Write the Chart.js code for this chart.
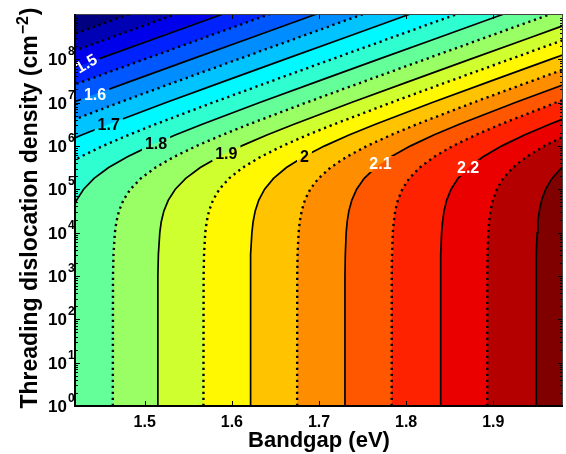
<!DOCTYPE html>
<html>
<head>
<meta charset="utf-8">
<script src="https://cdn.jsdelivr.net/npm/chart.js@4.4.1/dist/chart.umd.min.js"></script>
<style>
  html, body { margin: 0; padding: 0; background: #fff; }
  #wrap { width: 566px; height: 454px; }
</style>
</head>
<body>
<div id="wrap"><canvas id="c" width="566" height="454"></canvas></div>
<script>
// Contour levels
const levels = [1.40, 1.45, 1.50, 1.55, 1.60, 1.65, 1.70, 1.75, 1.80, 1.85,
                1.90, 1.95, 2.00, 2.05, 2.10, 2.15, 2.20, 2.25, 2.30];
// Levels drawn as solid lines (the rest are dotted)
const solidLevels = [1.5, 1.6, 1.7, 1.8, 1.9, 2.0, 2.1, 2.2, 2.3];

// log10 of the threading dislocation density (cm^-2) where each contour is sampled
const densityExp = [0, 3, 3.5, 4, 4.25, 4.5, 4.75, 5, 5.25, 5.5, 5.75, 6, 6.25, 6.5, 7, 7.5, 8, 8.5, 9, 9.5];

// Bandgap (eV) of each contour at the densities above
const eg140 = [0.9801, 0.9803, 0.9809, 0.9825, 0.9842, 0.9872, 0.9923, 1.0003, 1.0123, 1.0290, 1.0506, 1.0764, 1.1054, 1.1365, 1.2024, 1.2704, 1.3391, 1.4080, 1.4769, 1.5459];
const eg145 = [1.0338, 1.0340, 1.0346, 1.0362, 1.0379, 1.0409, 1.0460, 1.0540, 1.0660, 1.0827, 1.1043, 1.1301, 1.1591, 1.1902, 1.2561, 1.3241, 1.3928, 1.4617, 1.5306, 1.5996];
const eg150 = [1.0875, 1.0877, 1.0883, 1.0899, 1.0916, 1.0946, 1.0997, 1.1077, 1.1197, 1.1364, 1.1580, 1.1838, 1.2128, 1.2439, 1.3098, 1.3778, 1.4465, 1.5154, 1.5843, 1.6533];
const eg155 = [1.1412, 1.1414, 1.1420, 1.1436, 1.1453, 1.1483, 1.1534, 1.1614, 1.1734, 1.1901, 1.2117, 1.2375, 1.2665, 1.2976, 1.3635, 1.4315, 1.5002, 1.5691, 1.6380, 1.7070];
const eg160 = [1.1949, 1.1951, 1.1957, 1.1973, 1.1990, 1.2020, 1.2071, 1.2151, 1.2271, 1.2438, 1.2654, 1.2912, 1.3202, 1.3513, 1.4172, 1.4852, 1.5539, 1.6228, 1.6917, 1.7607];
const eg165 = [1.2486, 1.2488, 1.2494, 1.2510, 1.2527, 1.2557, 1.2608, 1.2688, 1.2808, 1.2975, 1.3191, 1.3449, 1.3739, 1.4050, 1.4709, 1.5389, 1.6076, 1.6765, 1.7454, 1.8144];
const eg170 = [1.3023, 1.3025, 1.3031, 1.3047, 1.3064, 1.3094, 1.3145, 1.3225, 1.3345, 1.3512, 1.3728, 1.3986, 1.4276, 1.4587, 1.5246, 1.5926, 1.6613, 1.7302, 1.7991, 1.8681];
const eg175 = [1.3560, 1.3562, 1.3568, 1.3584, 1.3601, 1.3631, 1.3682, 1.3762, 1.3882, 1.4049, 1.4265, 1.4523, 1.4813, 1.5124, 1.5783, 1.6463, 1.7150, 1.7839, 1.8528, 1.9218];
const eg180 = [1.4097, 1.4099, 1.4105, 1.4121, 1.4138, 1.4168, 1.4219, 1.4299, 1.4419, 1.4586, 1.4802, 1.5060, 1.5350, 1.5661, 1.6320, 1.7000, 1.7687, 1.8376, 1.9065, 1.9755];
const eg185 = [1.4634, 1.4636, 1.4642, 1.4658, 1.4675, 1.4705, 1.4756, 1.4836, 1.4956, 1.5123, 1.5339, 1.5597, 1.5887, 1.6198, 1.6857, 1.7537, 1.8224, 1.8913, 1.9602, 2.0292];
const eg190 = [1.5149, 1.5151, 1.5157, 1.5173, 1.5190, 1.5220, 1.5271, 1.5351, 1.5471, 1.5638, 1.5854, 1.6112, 1.6402, 1.6713, 1.7372, 1.8052, 1.8739, 1.9428, 2.0117, 2.0807];
const eg195 = [1.5674, 1.5676, 1.5681, 1.5695, 1.5711, 1.5738, 1.5784, 1.5857, 1.5969, 1.6126, 1.6333, 1.6583, 1.6867, 1.7175, 1.7830, 1.8508, 1.9195, 1.9884, 2.0573, 2.1263];
const eg200 = [1.6211, 1.6213, 1.6217, 1.6230, 1.6244, 1.6268, 1.6309, 1.6376, 1.6478, 1.6626, 1.6823, 1.7066, 1.7344, 1.7648, 1.8300, 1.8977, 1.9663, 2.0352, 2.1041, 2.1731];
const eg205 = [1.6749, 1.6750, 1.6754, 1.6766, 1.6779, 1.6801, 1.6838, 1.6899, 1.6994, 1.7132, 1.7320, 1.7553, 1.7825, 1.8124, 1.8771, 1.9447, 2.0132, 2.0821, 2.1510, 2.2200];
const eg210 = [1.7297, 1.7298, 1.7302, 1.7312, 1.7323, 1.7343, 1.7377, 1.7432, 1.7519, 1.7648, 1.7826, 1.8051, 1.8316, 1.8610, 1.9253, 1.9927, 2.0611, 2.1300, 2.1989, 2.2679];
const eg215 = [1.7834, 1.7835, 1.7838, 1.7847, 1.7858, 1.7875, 1.7905, 1.7956, 1.8036, 1.8156, 1.8323, 1.8539, 1.8797, 1.9087, 1.9723, 2.0395, 2.1080, 2.1768, 2.2457, 2.3147];
const eg220 = [1.8394, 1.8395, 1.8398, 1.8407, 1.8418, 1.8435, 1.8465, 1.8516, 1.8596, 1.8716, 1.8883, 1.9099, 1.9357, 1.9647, 2.0283, 2.0955, 2.1640, 2.2328, 2.3017, 2.3707];
const eg225 = [1.8931, 1.8932, 1.8935, 1.8943, 1.8952, 1.8968, 1.8995, 1.9041, 1.9114, 1.9226, 1.9383, 1.9590, 1.9840, 2.0124, 2.0755, 2.1425, 2.2108, 2.2796, 2.3485, 2.4175];
const eg230 = [1.9491, 1.9492, 1.9495, 1.9503, 1.9512, 1.9528, 1.9555, 1.9601, 1.9674, 1.9786, 1.9943, 2.0150, 2.0400, 2.0684, 2.1315, 2.1985, 2.2668, 2.3356, 2.4045, 2.4735];

const contourBandgap = [eg140, eg145, eg150, eg155, eg160, eg165, eg170, eg175, eg180, eg185,
                        eg190, eg195, eg200, eg205, eg210, eg215, eg220, eg225, eg230];

// Inline contour labels: which level, and the density (log10) where it sits on its line
const labelLevels = [1.5, 1.6, 1.7, 1.8, 1.9, 2.0, 2.1, 2.2];
const labelDensityExp = [7.9, 7.19, 6.5, 6.06, 5.83, 5.76, 5.58, 5.49];

// Axis ticks
const xTicks = [1.5, 1.6, 1.7, 1.8, 1.9];
const yTickExp = [0, 1, 2, 3, 4, 5, 6, 7, 8];

// Axis limits
const X_MIN = 1.42, X_MAX = 1.98;
const Y_MIN = 1, Y_MAX = 1.1e9;

// ---- styling ----
const FONT = "'Liberation Sans', Arial, Helvetica, sans-serif";
const labelTextColor = ['#fff', '#fff', '#000', '#000', '#000', '#000', '#fff', '#fff'];
const labelRotationDeg = [-30, 0, 0, 0, 0, 0, 0, 0];

// jet colormap
function jet(t) {
  const c = v => Math.round(255 * Math.max(0, Math.min(1, v)));
  return 'rgb(' + c(1.5 - Math.abs(4 * t - 3)) + ',' + c(1.5 - Math.abs(4 * t - 2)) + ',' + c(1.5 - Math.abs(4 * t - 1)) + ')';
}
const nBands = levels.length + 1;
const bandColor = k => jet(k / (nBands - 1));
const isSolid = lv => solidLevels.some(s => Math.abs(s - lv) < 1e-6);

// far corners used to close the filled regions outside the visible window
const FAR_LEFT = 0.8, FAR_RIGHT = 2.7, FAR_LOW = 0.5, FAR_HIGH = 1e11;

const linePoints = eg => eg.map((x, i) => ({ x: x, y: Math.pow(10, densityExp[i]) }));

const datasets = [];
// each region "value >= level" is bounded on the left by its contour line
levels.forEach((lv, i) => {
  const eg = contourBandgap[i];
  const pts = [{ x: FAR_RIGHT, y: FAR_LOW }, { x: eg[0], y: FAR_LOW }]
    .concat(linePoints(eg))
    .concat([{ x: eg[eg.length - 1], y: FAR_HIGH }, { x: FAR_RIGHT, y: FAR_HIGH }]);
  datasets.push({
    role: 'band', data: pts, fill: 'shape', backgroundColor: bandColor(i + 1),
    borderWidth: 0, pointRadius: 0, tension: 0, order: 500 - i
  });
});
// lowest band covers the whole window
datasets.push({
  role: 'band',
  data: [{ x: FAR_RIGHT, y: FAR_LOW }, { x: FAR_LEFT, y: FAR_LOW }, { x: FAR_LEFT, y: FAR_HIGH }, { x: FAR_RIGHT, y: FAR_HIGH }],
  fill: 'shape', backgroundColor: bandColor(0), borderWidth: 0, pointRadius: 0, tension: 0, order: 1000
});
// contour strokes
levels.forEach((lv, i) => {
  const solid = isSolid(lv);
  datasets.push({
    role: 'stroke', data: linePoints(contourBandgap[i]), fill: false,
    borderColor: '#000', borderWidth: solid ? 1.7 : 2.4, borderDash: solid ? [] : [2.2, 3.8],
    borderCapStyle: 'butt', pointRadius: 0, tension: 0, order: 10
  });
});

function labelGeometry(chart, k) {
  const xs = chart.scales.x, ys = chart.scales.y;
  const idx = levels.findIndex(v => Math.abs(v - labelLevels[k]) < 1e-6);
  const eg = contourBandgap[idx];
  const e = labelDensityExp[k];
  let j = densityExp.findIndex(v => v >= e);
  if (j < 1) j = 1;
  const t = (e - densityExp[j - 1]) / (densityExp[j] - densityExp[j - 1]);
  const x0 = xs.getPixelForValue(eg[j - 1]), y0 = ys.getPixelForValue(Math.pow(10, densityExp[j - 1]));
  const x1 = xs.getPixelForValue(eg[j]), y1 = ys.getPixelForValue(Math.pow(10, densityExp[j]));
  return { px: x0 + t * (x1 - x0), py: y0 + t * (y1 - y0), ang: labelRotationDeg[k] * Math.PI / 180 };
}
const labelText = k => String(labelLevels[k]);
const LABEL_FONT = 'bold 16px ' + FONT;
const AXIS_TITLE_FONT = 'bold 23px ' + FONT;
const AXIS_SUP_FONT = 'bold 16px ' + FONT;

const contourDecor = {
  id: 'contourDecor',
  beforeDatasetDraw(chart, args) {
    const ds = chart.data.datasets[args.index];
    if (ds.role !== 'stroke') return;
    const ctx = chart.ctx;
    ctx.save();
    ctx.font = LABEL_FONT;
    ctx.beginPath();
    ctx.rect(0, 0, chart.width, chart.height);
    labelLevels.forEach((lv, k) => {
      const g = labelGeometry(chart, k);
      const w = ctx.measureText(labelText(k)).width / 2 + 3, h = 8;
      const c = Math.cos(g.ang), s = Math.sin(g.ang);
      const pt = (dx, dy) => [g.px + dx * c - dy * s, g.py + dx * s + dy * c];
      const p = [pt(-w, -h), pt(w, -h), pt(w, h), pt(-w, h)];
      ctx.moveTo(p[0][0], p[0][1]);
      for (let q = 1; q < 4; q++) ctx.lineTo(p[q][0], p[q][1]);
      ctx.closePath();
    });
    ctx.clip('evenodd');
  },
  afterDatasetDraw(chart, args) {
    const ds = chart.data.datasets[args.index];
    if (ds.role !== 'stroke') return;
    chart.ctx.restore();
  },
  afterDatasetsDraw(chart) {
    const ctx = chart.ctx;
    const { left, right, top, bottom } = chart.chartArea;
    const xs = chart.scales.x, ys = chart.scales.y;

    // contour labels
    ctx.save();
    ctx.font = LABEL_FONT;
    ctx.textAlign = 'center';
    ctx.textBaseline = 'middle';
    labelLevels.forEach((lv, k) => {
      const g = labelGeometry(chart, k);
      ctx.save();
      ctx.translate(g.px, g.py);
      ctx.rotate(g.ang);
      ctx.fillStyle = labelTextColor[k];
      ctx.fillText(labelText(k), 0, 1);
      ctx.restore();
    });
    ctx.restore();

    // inward tick marks
    ctx.save();
    ctx.strokeStyle = '#000';
    ctx.lineWidth = 1;
    ctx.beginPath();
    xTicks.forEach(v => {
      const px = Math.round(xs.getPixelForValue(v)) + 0.5;
      ctx.moveTo(px, bottom); ctx.lineTo(px, bottom - 5);
      ctx.moveTo(px, top); ctx.lineTo(px, top + 5);
    });
    yTickExp.forEach(e => {
      for (let m = 1; m <= 9; m++) {
        const v = m * Math.pow(10, e);
        if (v > Y_MAX) break;
        const py = Math.round(ys.getPixelForValue(v)) + 0.5;
        const len = m === 1 ? 5 : 3;
        ctx.moveTo(left, py); ctx.lineTo(left + len, py);
        ctx.moveTo(right, py); ctx.lineTo(right - len, py);
      }
    });
    ctx.stroke();

    // frame
    ctx.strokeStyle = '#444';
    ctx.lineWidth = 1;
    ctx.beginPath();
    ctx.moveTo(left, top + 0.5); ctx.lineTo(right, top + 0.5);
    ctx.moveTo(right - 0.5, top); ctx.lineTo(right - 0.5, bottom);
    ctx.stroke();
    ctx.strokeStyle = '#000';
    ctx.lineWidth = 2;
    ctx.beginPath();
    ctx.moveTo(left, top); ctx.lineTo(left, bottom + 1);
    ctx.moveTo(left - 1, bottom); ctx.lineTo(right, bottom);
    ctx.stroke();

    // y tick labels: 10 with a raised exponent
    ctx.fillStyle = '#000';
    yTickExp.forEach(e => {
      const py = ys.getPixelForValue(Math.pow(10, e));
      ctx.font = 'bold 17px ' + FONT;
      ctx.textAlign = 'right';
      ctx.textBaseline = 'alphabetic';
      ctx.fillText('10', left - 8, py + 6);
      ctx.font = 'bold 12px ' + FONT;
      ctx.textAlign = 'left';
      ctx.fillText(String(e), left - 7, py - 4);
    });

    // y axis title with a superscript unit exponent
    const main = 'Threading dislocation density (cm', sup = '\u22122', close = ')';
    ctx.font = AXIS_TITLE_FONT;
    const wMain = ctx.measureText(main).width, wClose = ctx.measureText(close).width;
    ctx.font = AXIS_SUP_FONT;
    const wSup = ctx.measureText(sup).width;
    const total = wMain + wSup + wClose + 2;
    ctx.save();
    ctx.translate(37, (top + bottom) / 2 - 2);
    ctx.rotate(-Math.PI / 2);
    ctx.textAlign = 'left';
    ctx.textBaseline = 'alphabetic';
    let xo = -total / 2;
    ctx.font = AXIS_TITLE_FONT;
    ctx.fillText(main, xo, 0);
    xo += wMain + 1;
    ctx.font = AXIS_SUP_FONT;
    ctx.fillText(sup, xo, -9);
    xo += wSup + 1;
    ctx.font = AXIS_TITLE_FONT;
    ctx.fillText(close, xo, 0);
    ctx.restore();

    ctx.restore();
  }
};

new Chart(document.getElementById('c'), {
  type: 'line',
  data: { datasets: datasets },
  options: {
    responsive: false,
    animation: false,
    events: [],
    layout: { padding: { top: 14, right: 3, bottom: 0, left: 0 } },
    plugins: { legend: { display: false }, tooltip: { enabled: false } },
    scales: {
      x: {
        type: 'linear', min: X_MIN, max: X_MAX,
        grid: { display: false, drawTicks: false },
        border: { display: false },
        afterBuildTicks: s => { s.ticks = xTicks.map(v => ({ value: v })); },
        ticks: {
          color: '#000', padding: 7, maxRotation: 0, autoSkip: false,
          font: { family: FONT, size: 16, weight: 'bold' },
          callback: v => Number(v).toFixed(1)
        },
        title: {
          display: true, text: 'Bandgap (eV)', color: '#000',
          font: { family: FONT, size: 22, weight: 'bold' }, padding: { top: 0, bottom: 0 }
        },
        afterFit: s => { s.height = 48; }
      },
      y: {
        type: 'logarithmic', min: Y_MIN, max: Y_MAX,
        grid: { display: false, drawTicks: false },
        border: { display: false },
        ticks: { display: false },
        title: { display: false },
        afterFit: s => { s.width = 75; }
      }
    }
  },
  plugins: [contourDecor]
});
</script>
</body>
</html>
